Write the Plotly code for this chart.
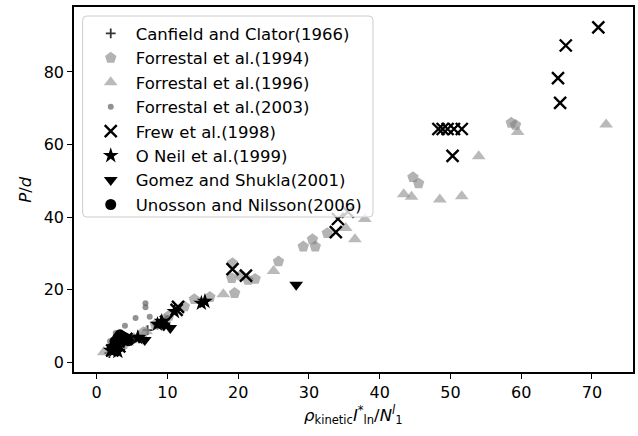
import plotly.graph_objects as go

# ---- data: normalised penetration depth vs. dimensionless impact parameter ----
series_names = [
    "Canfield and Clator(1966)",
    "Forrestal et al.(1994)",
    "Forrestal et al.(1996)",
    "Forrestal et al.(2003)",
    "Frew et al.(1998)",
    "O Neil et al.(1999)",
    "Gomez and Shukla(2001)",
    "Unosson and Nilsson(2006)",
]

canfield_x = [1.8, 2.4, 3.1, 3.9, 4.8, 5.9, 7.2, 8.6]
canfield_y = [2.6, 3.4, 4.3, 5.2, 6.2, 7.4, 8.9, 10.5]

forrestal94_x = [2.6, 3.8, 5.2, 6.6, 8.3, 10.2, 12.4, 13.8, 16.0, 19.5, 19.1, 19.2, 20.4,
                 21.4, 22.4, 25.7, 29.2, 30.5, 30.9, 32.6, 44.7, 45.5, 58.6, 59.2]
forrestal94_y = [3.6, 5.0, 6.6, 8.3, 10.4, 12.8, 15.4, 17.4, 18.0, 19.1, 23.2, 27.3, 24.0,
                 22.7, 23.0, 27.8, 31.9, 33.9, 31.9, 35.6, 51.0, 49.3, 66.0, 65.4]

forrestal96_x = [1.0, 2.1, 4.3, 7.0, 9.6, 17.9, 25.0, 35.2, 36.5, 37.9, 43.4, 44.5, 48.5,
                 51.6, 54.0, 59.5, 72.0]
forrestal96_y = [2.8, 3.3, 5.5, 8.6, 11.8, 18.8, 25.2, 37.0, 33.9, 39.5, 46.3, 45.6, 44.9,
                 45.8, 56.8, 63.5, 65.5]

forrestal03_x = [1.9, 2.7, 4.0, 5.5, 6.9, 6.9, 7.5, 3.2, 5.0, 8.4, 10.0]
forrestal03_y = [5.8, 8.1, 10.1, 12.2, 15.2, 16.3, 12.6, 4.6, 6.9, 10.4, 12.2]

frew_x = [70.9, 66.3, 65.2, 65.5, 48.3, 48.9, 49.6, 50.5, 51.6, 50.3, 33.8, 34.1, 35.5,
          19.2, 21.1, 11.3, 11.5, 9.8, 3.2, 2.2, 4.2]
frew_y = [92.3, 87.3, 78.3, 71.5, 64.3, 64.3, 64.3, 64.3, 64.3, 56.9, 35.9, 39.5, 41.5,
          25.7, 23.9, 14.5, 15.3, 11.2, 4.4, 3.3, 6.5]

oneil_x = [15.3, 14.8, 11.0, 9.2, 8.6, 2.5, 3.0, 2.0, 5.8]
oneil_y = [16.8, 16.3, 14.0, 11.3, 10.5, 3.4, 3.0, 3.3, 6.8]

gomez_x = [28.2, 10.4, 6.8, 9.5, 3.8, 6.0]
gomez_y = [21.4, 9.5, 6.2, 10.2, 5.6, 6.8]

unosson_x = [3.3, 3.0, 3.6, 2.6, 4.0, 2.2, 4.5, 3.1]
unosson_y = [7.6, 6.8, 7.2, 5.8, 6.8, 4.0, 6.0, 5.2]

xs = [canfield_x, forrestal94_x, forrestal96_x, forrestal03_x, frew_x, oneil_x, gomez_x, unosson_x]
ys = [canfield_y, forrestal94_y, forrestal96_y, forrestal03_y, frew_y, oneil_y, gomez_y, unosson_y]

# marker styling per series
styles = [
    dict(symbol="cross-thin", size=7, color="rgba(0,0,0,0.8)", line=dict(width=1.8, color="rgba(0,0,0,0.8)")),
    dict(symbol="pentagon", size=12, color="rgba(128,128,128,0.6)", line=dict(width=0)),
    dict(symbol="triangle-up", size=12, color="rgba(140,140,140,0.6)", line=dict(width=0)),
    dict(symbol="circle", size=6, color="rgba(100,100,100,0.7)", line=dict(width=0)),
    dict(symbol="x-thin", size=12, color="black", line=dict(width=2.4, color="black")),
    dict(symbol="star", size=12, color="black", line=dict(width=0)),
    dict(symbol="triangle-down", size=12, color="black", line=dict(width=0)),
    dict(symbol="circle", size=11, color="black", line=dict(width=0)),
]

FONT = "DejaVu Sans"

fig = go.Figure()
for name, x, y, st in zip(series_names, xs, ys, styles):
    fig.add_trace(go.Scatter(x=x, y=y, mode="markers", name=name, marker=st))

axis_common = dict(
    showline=True, linecolor="black", linewidth=1.6, mirror=True,
    ticks="outside", ticklen=5, tickwidth=1.3, tickcolor="black",
    showgrid=False, zeroline=False,
    tickfont=dict(family=FONT, size=16, color="black"),
)

fig.update_layout(
    width=638, height=436,
    margin=dict(l=74, r=3, t=7, b=64),
    paper_bgcolor="white", plot_bgcolor="white",
    font=dict(family=FONT, size=16, color="black"),
    xaxis=dict(range=[-3.2, 75.8], tickvals=[0, 10, 20, 30, 40, 50, 60, 70], **axis_common),
    yaxis=dict(range=[-2.64, 97.9], tickvals=[0, 20, 40, 60, 80], **axis_common),
    showlegend=True,
    legend=dict(
        x=0.021, y=0.975, xanchor="left", yanchor="top",
        bgcolor="rgba(0,0,0,0)", borderwidth=0,
        font=dict(family=FONT, size=16.5, color="black"),
        itemwidth=40, tracegroupgap=0,
    ),
)

# legend frame (semi-transparent white box with rounded corners, drawn over the markers)
box_w, box_h, rad = 373 - 82.7, 217 - 16, 4
frame_path = (
    f"M {rad},0 L {box_w - rad},0 Q {box_w},0 {box_w},{-rad} "
    f"L {box_w},{-box_h + rad} Q {box_w},{-box_h} {box_w - rad},{-box_h} "
    f"L {rad},{-box_h} Q 0,{-box_h} 0,{-box_h + rad} "
    f"L 0,{-rad} Q 0,0 {rad},0 Z"
)
fig.add_shape(
    type="path", xref="paper", yref="paper", layer="above",
    xsizemode="pixel", ysizemode="pixel",
    xanchor=(82.7 - 74) / 561, yanchor=1 - (16 - 7) / 365,
    path=frame_path,
    fillcolor="rgba(255,255,255,0.8)", line=dict(color="#cccccc", width=1),
)

# axis titles
fig.add_annotation(
    xref="paper", yref="paper", x=0.5, y=-(415 - 372) / 365,
    xanchor="center", yanchor="middle", showarrow=False,
    text="<i>ρ</i><sub>kinetic</sub><i>I</i><sup>*</sup><sub>ln</sub>/<i>N</i><sup><i>l</i></sup><sub>1</sub>",
    font=dict(family=FONT, size=16.5, color="black"),
)
fig.add_annotation(
    xref="paper", yref="paper", x=-(74 - 25) / 561, y=0.5,
    xanchor="center", yanchor="middle", showarrow=False, textangle=-90,
    text="<i>P</i>/<i>d</i>",
    font=dict(family=FONT, size=16.5, color="black"),
)

fig.write_html("out.html")
